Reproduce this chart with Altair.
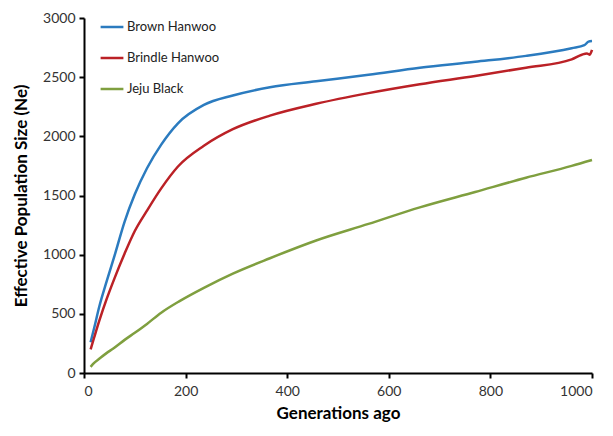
import altair as alt
import pandas as pd

series_names = ["Brown Hanwoo", "Brindle Hanwoo", "Jeju Black"]
colors = ["#2b7bbf", "#bb2126", "#7f9f3f"]

brown_gen = [13, 20, 30, 45, 60, 80, 100, 124, 152, 185, 236, 293, 366, 457, 560, 661, 770, 870, 960, 985, 993, 1000]
brown_ne = [260, 380, 560, 780, 990, 1280, 1510, 1730, 1930, 2110, 2265, 2345, 2415, 2465, 2520, 2580, 2630, 2680, 2745, 2770, 2800, 2805]

brindle_gen = [13, 20, 30, 45, 60, 80, 100, 124, 152, 185, 236, 293, 366, 457, 560, 661, 770, 870, 960, 980, 990, 995, 1000]
brindle_ne = [200, 300, 440, 630, 800, 1010, 1200, 1372, 1560, 1745, 1920, 2060, 2175, 2275, 2365, 2440, 2510, 2580, 2650, 2690, 2700, 2690, 2730]

jeju_gen = [13, 20, 30, 45, 57, 80, 100, 124, 152, 189, 236, 293, 366, 457, 560, 661, 770, 870, 960, 1000]
jeju_ne = [52, 85, 120, 170, 205, 280, 340, 415, 510, 610, 720, 840, 970, 1120, 1260, 1400, 1530, 1650, 1750, 1800]

x_ticks = [0, 200, 400, 600, 800, 1000]
y_ticks = [0, 500, 1000, 1500, 2000, 2500, 3000]

rows = []
for name, g, v in [(series_names[0], brown_gen, brown_ne),
                   (series_names[1], brindle_gen, brindle_ne),
                   (series_names[2], jeju_gen, jeju_ne)]:
    for gi, vi in zip(g, v):
        rows.append({"breed": name, "gen": gi, "ne": vi})
df = pd.DataFrame(rows)

font = "Lato"

chart = alt.Chart(df).mark_line(strokeWidth=2.5, interpolate="monotone").encode(
    x=alt.X("gen:Q", scale=alt.Scale(domain=[0, 1000], nice=False),
            axis=alt.Axis(title="Generations ago", values=x_ticks, format="d")),
    y=alt.Y("ne:Q", scale=alt.Scale(domain=[0, 3000], nice=False),
            axis=alt.Axis(title="Effective Population Size (Ne)", values=y_ticks, format="d")),
    color=alt.Color("breed:N", scale=alt.Scale(domain=series_names, range=colors),
                    sort=series_names,
                    legend=alt.Legend(title=None, orient="none", legendX=15, legendY=-4,
                                      symbolType="stroke", symbolSize=520,
                                      symbolStrokeWidth=2.5, labelFontSize=13,
                                      labelFont=font, labelColor="#222",
                                      rowPadding=11, labelOffset=2)),
    detail="breed:N",
).properties(
    width=508, height=355,
    padding={"left": 76, "top": 10, "right": 10, "bottom": 52},
    autosize=alt.AutoSizeParams(type="none"),
).configure_view(stroke=None).configure_axis(
    grid=False, domainColor="black", domainWidth=2, tickColor="black", tickWidth=2,
    tickSize=5, labelFont=font, labelFontSize=14, labelColor="#333",
    titleFont=font, titleFontSize=17, titleFontWeight="bold", titleColor="black",
    labelPadding=4,
).configure_axisX(titlePadding=7, labelPadding=6).configure_axisY(titlePadding=12)

chart.save("out.html", embed_options={"renderer": "svg", "actions": False})
